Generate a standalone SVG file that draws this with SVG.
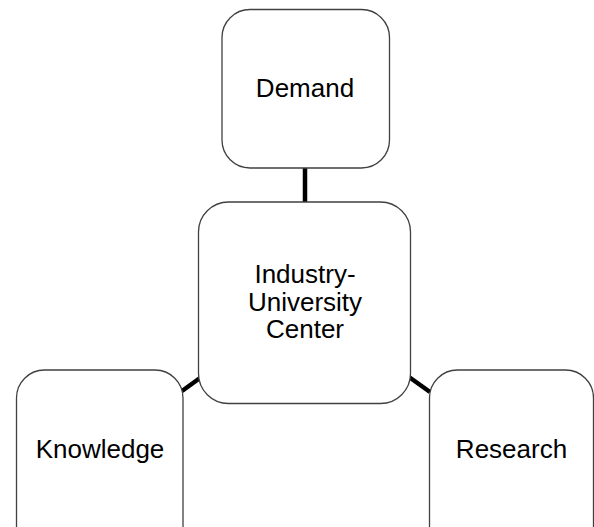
<svg xmlns="http://www.w3.org/2000/svg" width="594" height="527" viewBox="0 0 594 527">
<style>
.box{fill:#fff;stroke:#404040;stroke-width:1.3}
.lbl{font-family:"Liberation Sans",Arial,sans-serif;font-size:26px;fill:#000;text-anchor:middle}
.con{stroke:#000;stroke-width:4.5;fill:none}
</style>
<rect width="594" height="527" fill="#fff"/>
<g id="connectors">
<line class="con" x1="305" y1="168" x2="305" y2="203"/>
<line class="con" x1="182" y1="391" x2="200" y2="378"/>
<line class="con" x1="409" y1="377" x2="430" y2="392"/>
</g>
<g id="demand">
<rect class="box" x="222" y="9.5" width="167.5" height="158.5" rx="28"/>
<text class="lbl" x="305" y="97">Demand</text>
</g>
<g id="center">
<rect class="box" x="198.5" y="202" width="212" height="201.5" rx="30"/>
<text class="lbl" x="305" y="283">Industry-</text>
<text class="lbl" x="305" y="311">University</text>
<text class="lbl" x="305" y="338">Center</text>
</g>
<g id="knowledge">
<rect class="box" x="16.5" y="370" width="166.5" height="185" rx="28"/>
<text class="lbl" x="100" y="458">Knowledge</text>
</g>
<g id="research">
<rect class="box" x="429.5" y="370" width="164" height="185" rx="28"/>
<text class="lbl" x="511.5" y="458">Research</text>
</g>
</svg>
